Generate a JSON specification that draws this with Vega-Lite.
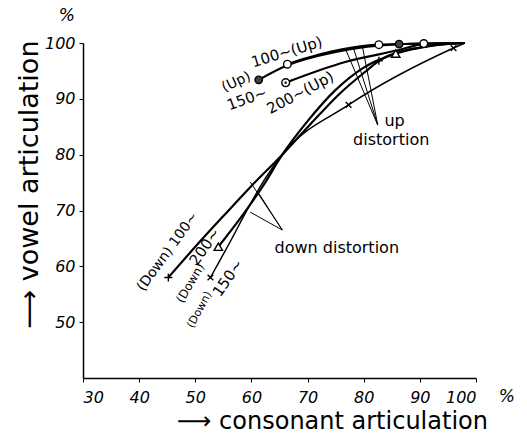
{
  "$schema": "https://vega.github.io/schema/vega-lite/v6.json",
  "width": 393,
  "height": 335,
  "autosize": {"type": "none"},
  "padding": {"left": 83, "top": 43, "right": 51, "bottom": 61},
  "background": "white",
  "config": {
    "view": {"stroke": null},
    "font": "DejaVu Sans",
    "axis": {
      "grid": false,
      "domainColor": "black",
      "domainWidth": 1.5,
      "tickColor": "black",
      "tickWidth": 1,
      "labelColor": "black",
      "titleColor": "black",
      "labelFont": "DejaVu Sans",
      "labelFontStyle": "italic",
      "labelFontSize": 16,
      "titleFont": "DejaVu Sans",
      "titleFontWeight": "normal"
    }
  },
  "datasets": {
    "curves": [
      {"s": "up150", "x": 61.3, "y": 93.4}, {"s": "up150", "x": 66.4, "y": 96.0}, {"s": "up150", "x": 75, "y": 98.4}, {"s": "up150", "x": 86.3, "y": 99.8}, {"s": "up150", "x": 98, "y": 100},
      {"s": "up100", "x": 66.4, "y": 96.2}, {"s": "up100", "x": 74, "y": 98.4}, {"s": "up100", "x": 82.7, "y": 99.7}, {"s": "up100", "x": 98, "y": 100},
      {"s": "up200", "x": 66.1, "y": 92.9}, {"s": "up200", "x": 76.7, "y": 96.6}, {"s": "up200", "x": 86.1, "y": 98.7}, {"s": "up200", "x": 90.7, "y": 99.8}, {"s": "up200", "x": 98, "y": 100},
      {"s": "down100", "x": 45.2, "y": 58}, {"s": "down100", "x": 50, "y": 63.5}, {"s": "down100", "x": 55, "y": 69}, {"s": "down100", "x": 60, "y": 74.4}, {"s": "down100", "x": 65.5, "y": 80}, {"s": "down100", "x": 70, "y": 84.9}, {"s": "down100", "x": 75.9, "y": 91.1}, {"s": "down100", "x": 80.7, "y": 95.2}, {"s": "down100", "x": 82.7, "y": 96.8}, {"s": "down100", "x": 90, "y": 99.2}, {"s": "down100", "x": 98, "y": 100},
      {"s": "down200", "x": 54.1, "y": 63.5}, {"s": "down200", "x": 58, "y": 68.6}, {"s": "down200", "x": 62, "y": 74.3}, {"s": "down200", "x": 65.5, "y": 80}, {"s": "down200", "x": 70, "y": 86}, {"s": "down200", "x": 75, "y": 91.6}, {"s": "down200", "x": 80, "y": 95.6}, {"s": "down200", "x": 85.7, "y": 98.1}, {"s": "down200", "x": 92, "y": 99.5}, {"s": "down200", "x": 98, "y": 100},
      {"s": "down150", "x": 52.7, "y": 58}, {"s": "down150", "x": 56, "y": 64}, {"s": "down150", "x": 59.5, "y": 70.6}, {"s": "down150", "x": 62.5, "y": 75.8}, {"s": "down150", "x": 65.5, "y": 80}, {"s": "down150", "x": 77.3, "y": 88.9}, {"s": "down150", "x": 96, "y": 99.1}, {"s": "down150", "x": 98, "y": 100}
    ],
    "markers": [
      {"m": "filled", "x": 61.3, "y": 93.4}, {"m": "filled", "x": 86.3, "y": 99.8},
      {"m": "ring", "x": 66.4, "y": 96.2}, {"m": "ring", "x": 82.7, "y": 99.7}, {"m": "ring", "x": 90.7, "y": 99.9},
      {"m": "dotring", "x": 66.1, "y": 92.9},
      {"m": "plus", "x": 45.2, "y": 58}, {"m": "plus", "x": 82.7, "y": 96.8},
      {"m": "triangle", "x": 54.1, "y": 63.5}, {"m": "triangle", "x": 85.7, "y": 98.1},
      {"m": "x", "x": 52.7, "y": 58}, {"m": "x", "x": 77.3, "y": 88.9}, {"m": "x", "x": 96, "y": 99.1}
    ],
    "pointers": [
      {"x": 82.5, "y": 85.3, "x2": 76.8, "y2": 98.8},
      {"x": 82.5, "y": 85.3, "x2": 78.2, "y2": 99.0},
      {"x": 82.5, "y": 85.3, "x2": 79.8, "y2": 99.2},
      {"x": 65.5, "y": 66.5, "x2": 59.8, "y2": 75.1},
      {"x": 65.5, "y": 66.5, "x2": 61.3, "y2": 73.1},
      {"x": 65.5, "y": 66.5, "x2": 59.8, "y2": 69.7}
    ],
    "labels": [
      {"t": "(Up)", "g": "a25", "x": 57.3, "y": 93.0},
      {"t": "150~", "g": "a20", "x": 59.2, "y": 90.0},
      {"t": "100~(Up)", "g": "a17", "x": 66.3, "y": 98.4},
      {"t": "200~(Up)", "g": "a30", "x": 68.7, "y": 91.1},
      {"t": "(Down) 100~", "g": "a54", "x": 45.1, "y": 62.6},
      {"t": "200~", "g": "a55", "x": 51.7, "y": 63.5},
      {"t": "(Down)", "g": "a60", "x": 49.1, "y": 57.0},
      {"t": "(Down)", "g": "a62", "x": 50.8, "y": 52.2},
      {"t": "150~", "g": "a55", "x": 55.8, "y": 57.9}
    ],
    "plain": [
      {"t": "up", "x": 85.5, "y": 86.0},
      {"t": "distortion", "x": 84.9, "y": 82.6},
      {"t": "down distortion", "x": 75.2, "y": 63.3},
      {"t": "%", "x": 27.1, "y": 104.8},
      {"t": "%", "x": 105.5, "y": 36.6}
    ]
  },
  "encoding": {
    "x": {"field": "x", "type": "quantitative", "scale": {"domain": [30, 100], "nice": false, "zero": false},
      "axis": {"values": [30, 40, 50, 60, 70, 80, 90, 100], "tickSize": 4, "labelPadding": 7,
        "title": "⟶ consonant articulation", "titleFontSize": 24, "titleX": 249, "titleY": 43, "titleAlign": "center", "titleBaseline": "middle"}},
    "y": {"field": "y", "type": "quantitative", "scale": {"domain": [40, 100], "nice": false, "zero": false},
      "axis": {"values": [50, 60, 70, 80, 90, 100], "tickSize": 4, "labelPadding": 4,
        "title": "⟶ vowel articulation", "titleFontSize": 27, "titleX": -54, "titleY": 141, "titleAngle": -90, "titleAlign": "center", "titleBaseline": "middle"}}
  },
  "layer": [
    {"data": {"name": "curves"}, "transform": [{"filter": {"field": "s", "oneOf": ["up150", "up100", "up200"]}}],
      "mark": {"type": "line", "interpolate": "monotone", "color": "black", "strokeWidth": 2.2},
      "encoding": {"detail": {"field": "s"}, "order": {"field": "x", "type": "quantitative"}}},
    {"data": {"name": "curves"}, "transform": [{"filter": {"field": "s", "oneOf": ["down100", "down200"]}}],
      "mark": {"type": "line", "interpolate": "monotone", "color": "black", "strokeWidth": 2.2},
      "encoding": {"detail": {"field": "s"}, "order": {"field": "x", "type": "quantitative"}}},
    {"data": {"name": "curves"}, "transform": [{"filter": {"field": "s", "equal": "down150"}}],
      "mark": {"type": "line", "interpolate": "monotone", "color": "black", "strokeWidth": 1.5},
      "encoding": {"order": {"field": "x", "type": "quantitative"}}},
    {"data": {"name": "pointers"}, "mark": {"type": "rule", "color": "black", "strokeWidth": 1},
      "encoding": {"x2": {"field": "x2"}, "y2": {"field": "y2"}}},
    {"data": {"name": "markers"},
      "mark": {"type": "point", "opacity": 1, "stroke": "black", "strokeWidth": 1.4},
      "encoding": {
        "shape": {"field": "m", "type": "nominal", "legend": null, "scale": {"domain": ["filled", "ring", "dotring", "plus", "x", "triangle"], "range": ["circle", "circle", "circle", "M-1,0L1,0M0,-1L0,1", "M-0.7,-0.7L0.7,0.7M-0.7,0.7L0.7,-0.7", "triangle-up"]}},
        "fill": {"field": "m", "type": "nominal", "legend": null, "scale": {"domain": ["filled", "ring", "dotring", "plus", "x", "triangle"], "range": ["#444444", "white", "white", "transparent", "transparent", "white"]}},
        "size": {"field": "m", "type": "nominal", "legend": null, "scale": {"domain": ["filled", "ring", "dotring", "plus", "x", "triangle"], "range": [55, 70, 60, 110, 90, 60]}}
      }},
    {"data": {"name": "markers"}, "transform": [{"filter": {"field": "m", "equal": "dotring"}}],
      "mark": {"type": "point", "filled": true, "color": "black", "size": 6, "opacity": 1}},
    {"data": {"name": "labels"}, "transform": [{"filter": {"field": "g", "equal": "a25"}}],
      "mark": {"type": "text", "angle": 335, "fontSize": 14, "color": "black", "align": "center", "baseline": "middle"}, "encoding": {"text": {"field": "t"}}},
    {"data": {"name": "labels"}, "transform": [{"filter": {"field": "g", "equal": "a20"}}],
      "mark": {"type": "text", "angle": 340, "fontSize": 15, "color": "black", "align": "center", "baseline": "middle"}, "encoding": {"text": {"field": "t"}}},
    {"data": {"name": "labels"}, "transform": [{"filter": {"field": "g", "equal": "a17"}}],
      "mark": {"type": "text", "angle": 343, "fontSize": 15, "color": "black", "align": "center", "baseline": "middle"}, "encoding": {"text": {"field": "t"}}},
    {"data": {"name": "labels"}, "transform": [{"filter": {"field": "g", "equal": "a30"}}],
      "mark": {"type": "text", "angle": 332, "fontSize": 15, "color": "black", "align": "center", "baseline": "middle"}, "encoding": {"text": {"field": "t"}}},
    {"data": {"name": "labels"}, "transform": [{"filter": {"field": "g", "equal": "a54"}}],
      "mark": {"type": "text", "angle": 306, "fontSize": 14, "color": "black", "align": "center", "baseline": "middle"}, "encoding": {"text": {"field": "t"}}},
    {"data": {"name": "labels"}, "transform": [{"filter": {"field": "g", "equal": "a55"}}],
      "mark": {"type": "text", "angle": 305, "fontSize": 15, "color": "black", "align": "center", "baseline": "middle"}, "encoding": {"text": {"field": "t"}}},
    {"data": {"name": "labels"}, "transform": [{"filter": {"field": "g", "equal": "a60"}}],
      "mark": {"type": "text", "angle": 300, "fontSize": 12, "color": "black", "align": "center", "baseline": "middle"}, "encoding": {"text": {"field": "t"}}},
    {"data": {"name": "labels"}, "transform": [{"filter": {"field": "g", "equal": "a62"}}],
      "mark": {"type": "text", "angle": 298, "fontSize": 11, "color": "black", "align": "center", "baseline": "middle"}, "encoding": {"text": {"field": "t"}}},
    {"data": {"name": "plain"}, "transform": [{"filter": {"field": "t", "oneOf": ["up", "distortion", "down distortion"]}}],
      "mark": {"type": "text", "fontSize": 16, "color": "black", "align": "center", "baseline": "middle"}, "encoding": {"text": {"field": "t"}}},
    {"data": {"name": "plain"}, "transform": [{"filter": {"field": "t", "equal": "%"}}],
      "mark": {"type": "text", "fontSize": 17, "fontStyle": "italic", "color": "black", "align": "center", "baseline": "middle"}, "encoding": {"text": {"field": "t"}}}
  ]
}
